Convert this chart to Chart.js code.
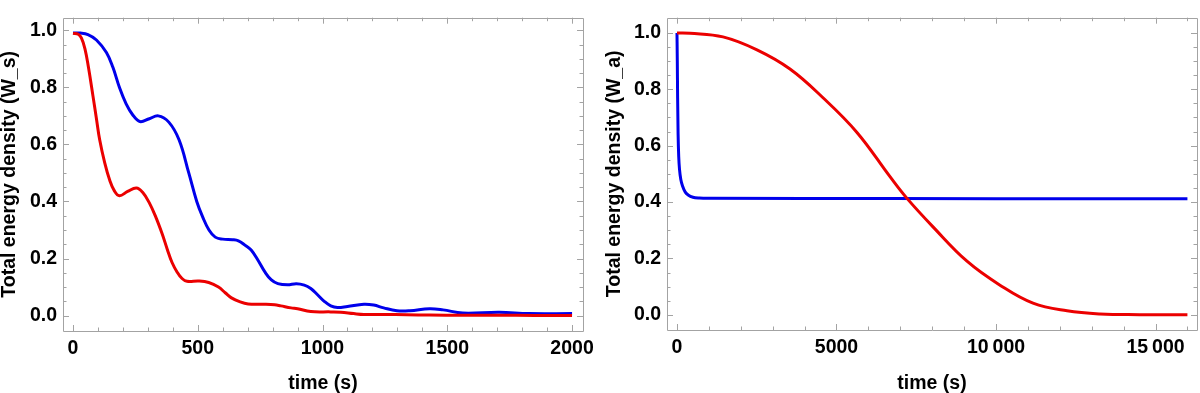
<!DOCTYPE html>
<html>
<head>
<meta charset="utf-8">
<script src="https://cdn.jsdelivr.net/npm/chart.js@4.4.1/dist/chart.umd.min.js"></script>
<style>
  html, body { margin: 0; padding: 0; background: #fff; }
  #wrap { position: relative; width: 1200px; height: 393px; overflow: hidden; }
  .box { position: absolute; top: 0; width: 600px; height: 393px; }
</style>
</head>
<body>
<div id="wrap">
  <div class="box" style="left:0"><canvas id="cLeft" width="600" height="393"></canvas></div>
  <div class="box" style="left:600px"><canvas id="cRight" width="600" height="393"></canvas></div>
</div>
<script>
// ---------- Left panel: W_s vs time (0 - 2000 s) ----------
const leftRedTime = [0, 21, 34, 48, 62, 80, 94, 107, 127, 147, 166, 186, 219, 254, 279, 306, 332, 358, 378, 397, 417, 437, 457, 504, 544, 583, 610, 635, 670, 702, 769, 808, 833, 874, 900, 953, 1033, 1073, 1125, 1166, 1245, 1338, 1429, 1560, 1700, 1850, 2000];
const leftRedW    = [0.989, 0.986, 0.972, 0.935, 0.87, 0.77, 0.69, 0.616, 0.536, 0.475, 0.437, 0.42, 0.435, 0.447, 0.432, 0.395, 0.345, 0.285, 0.232, 0.186, 0.153, 0.13, 0.12, 0.121, 0.116, 0.10, 0.08, 0.062, 0.048, 0.041, 0.04, 0.038, 0.034, 0.027, 0.024, 0.014, 0.013, 0.012, 0.007, 0.004, 0.004, 0.003, 0.002, 0.001, 0.001, 0.0005, 0.0];

const leftBlueTime = [0, 30, 60, 94, 134, 160, 186, 213, 239, 268, 306, 342, 384, 425, 464, 496, 520, 545, 570, 600, 640, 663, 689, 714, 742, 769, 795, 821, 860, 895, 927, 953, 980, 1007, 1033, 1060, 1100, 1166, 1205, 1245, 1298, 1350, 1429, 1483, 1562, 1708, 1827, 2000];
const leftBlueW    = [0.99, 0.99, 0.985, 0.966, 0.922, 0.87, 0.80, 0.742, 0.704, 0.68, 0.69, 0.70, 0.678, 0.616, 0.50, 0.40, 0.345, 0.30, 0.275, 0.268, 0.266, 0.262, 0.247, 0.23, 0.193, 0.153, 0.125, 0.112, 0.108, 0.112, 0.107, 0.095, 0.073, 0.05, 0.034, 0.028, 0.032, 0.04, 0.037, 0.027, 0.017, 0.017, 0.024, 0.02, 0.009, 0.012, 0.007, 0.007];

const leftXTickLabels = ["0", "500", "1000", "1500", "2000"];
const leftYTickLabels = ["0.0", "0.2", "0.4", "0.6", "0.8", "1.0"];

// ---------- Right panel: W_a vs time (0 - 16000 s) ----------
const rightRedTime = [0, 408, 1442, 2508, 3542, 4577, 5642, 6677, 7210, 8025, 9090, 10125, 11160, 12226, 13260, 14500, 16000];
const rightRedW    = [1.0, 0.999, 0.986, 0.94, 0.872, 0.77, 0.647, 0.49, 0.413, 0.312, 0.19, 0.105, 0.041, 0.014, 0.003, 0.0005, 0.0];

const rightBlueTime = [0, 10, 20, 35, 55, 80, 120, 180, 260, 360, 500, 700, 1000, 4000, 10000, 16000];
const rightBlueW    = [1.0, 0.9, 0.77, 0.64, 0.56, 0.515, 0.48, 0.455, 0.435, 0.424, 0.417, 0.414, 0.413, 0.4125, 0.412, 0.412];

const rightXTickLabels = ["0", "5000", "10\u2009000", "15\u2009000"];
const rightYTickLabels = ["0.0", "0.2", "0.4", "0.6", "0.8", "1.0"];

const RED = 'rgb(235,0,0)';
const BLUE = 'rgb(0,0,235)';
const FRAME = '#a3a3a3';
const FONT = "'Liberation Sans', Arial, sans-serif";

function pts(t, w) { return t.map((x, i) => ({ x: x, y: w[i] })); }

// inward frame ticks drawn from the chart's own scales
const frameTicks = {
  id: 'frameTicks',
  beforeDatasetsDraw(chart) {
    const { ctx, chartArea: a, scales } = chart;
    ctx.save();
    ctx.strokeStyle = FRAME;
    ctx.lineWidth = 1;
    ctx.beginPath();
    ctx.rect(Math.round(a.left) + 0.5, Math.round(a.top) + 0.5, Math.round(a.right - a.left), Math.round(a.bottom - a.top));
    ctx.stroke();
    ctx.beginPath();
    scales.x.ticks.forEach(t => {
      const px = Math.round(scales.x.getPixelForValue(t.value)) + 0.5;
      const L = t.isMajor ? 6 : 3.5;
      ctx.moveTo(px, a.bottom); ctx.lineTo(px, a.bottom - L);
      ctx.moveTo(px, a.top); ctx.lineTo(px, a.top + L);
    });
    scales.y.ticks.forEach(t => {
      const py = Math.round(scales.y.getPixelForValue(t.value)) + 0.5;
      const L = t.isMajor ? 6 : 3.5;
      ctx.moveTo(a.left, py); ctx.lineTo(a.left + L, py);
      ctx.moveTo(a.right, py); ctx.lineTo(a.right - L, py);
    });
    ctx.stroke();
    ctx.restore();
  }
};

function makeChart(id, cfg) {
  const xLabelMap = {};
  cfg.xMajors.forEach((v, i) => xLabelMap[v] = cfg.xLabels[i]);
  return new Chart(document.getElementById(id), {
    type: 'line',
    data: {
      datasets: [
        { data: pts(cfg.redT, cfg.redW), borderColor: RED, borderWidth: 3, pointRadius: 0, tension: 0.4, fill: false },
        { data: pts(cfg.blueT, cfg.blueW), borderColor: BLUE, borderWidth: 3, pointRadius: 0,
          tension: cfg.blueMono ? 0 : 0.4, cubicInterpolationMode: cfg.blueMono ? 'monotone' : 'default', fill: false }
      ]
    },
    options: {
      responsive: false,
      animation: false,
      devicePixelRatio: 1,
      layout: { padding: cfg.padding },
      plugins: { legend: { display: false }, tooltip: { enabled: false } },
      scales: {
        x: {
          type: 'linear',
          min: cfg.xMin, max: cfg.xMax,
          grid: { display: false, drawTicks: false },
          border: { display: false },
          afterBuildTicks(s) {
            const arr = [];
            for (let k = 0; k * cfg.xMinor <= cfg.xEnd; k++) {
              arr.push({ value: k * cfg.xMinor, isMajor: (k % cfg.xRatio) === 0 });
            }
            s.ticks = arr;
          },
          afterFit(s) { s.height = cfg.xHeight; },
          ticks: {
            autoSkip: false, maxRotation: 0, padding: 6, color: '#000',
            font: { family: FONT, size: 19.5, weight: 'bold' },
            callback(v) { return xLabelMap[v] !== undefined ? xLabelMap[v] : ''; }
          },
          title: {
            display: true, text: 'time (s)', color: '#000',
            font: { family: FONT, size: 19.5, weight: 'bold', lineHeight: 1 },
            padding: { top: 0, bottom: 0 }
          }
        },
        y: {
          type: 'linear',
          min: cfg.yMin, max: cfg.yMax,
          grid: { display: false, drawTicks: false },
          border: { display: false },
          afterBuildTicks(s) {
            const arr = [];
            for (let k = 0; k <= 20; k++) {
              arr.push({ value: k * 0.05, isMajor: (k % 4) === 0 });
            }
            s.ticks = arr;
          },
          afterFit(s) { s.width = cfg.yWidth; },
          ticks: {
            autoSkip: false, padding: 6, color: '#000',
            font: { family: FONT, size: 19.5, weight: 'bold' },
            callback(v, i) { return (i % 4 === 0) ? cfg.yLabels[i / 4] : ''; }
          },
          title: {
            display: true, text: cfg.yTitle, color: '#000',
            font: { family: FONT, size: 19.5, weight: 'bold', lineHeight: 1 },
            padding: { top: cfg.yTitlePad, bottom: 0 }
          }
        }
      }
    },
    plugins: [frameTicks]
  });
}

makeChart('cLeft', {
  redT: leftRedTime, redW: leftRedW, blueT: leftBlueTime, blueW: leftBlueW, blueMono: false,
  xMin: -40, xMax: 2044, xMinor: 100, xRatio: 5, xEnd: 2000,
  xMajors: [0, 500, 1000, 1500, 2000], xLabels: leftXTickLabels,
  yMin: -0.054, yMax: 1.044, yLabels: leftYTickLabels,
  padding: { left: 0, right: 12, top: 7, bottom: 0 },
  xHeight: 62, yWidth: 63, yTitlePad: 0,
  yTitle: 'Total energy density (W_s)'
});

makeChart('cRight', {
  redT: rightRedTime, redW: rightRedW, blueT: rightBlueTime, blueW: rightBlueW, blueMono: true,
  xMin: -313, xMax: 16300, xMinor: 1000, xRatio: 5, xEnd: 16000,
  xMajors: [0, 5000, 10000, 15000], xLabels: rightXTickLabels,
  yMin: -0.054, yMax: 1.054, yLabels: rightYTickLabels,
  padding: { left: 0, right: 3, top: 3, bottom: 0 },
  xHeight: 63, yWidth: 67, yTitlePad: 5,
  yTitle: 'Total energy density (W_a)'
});
</script>
</body>
</html>
